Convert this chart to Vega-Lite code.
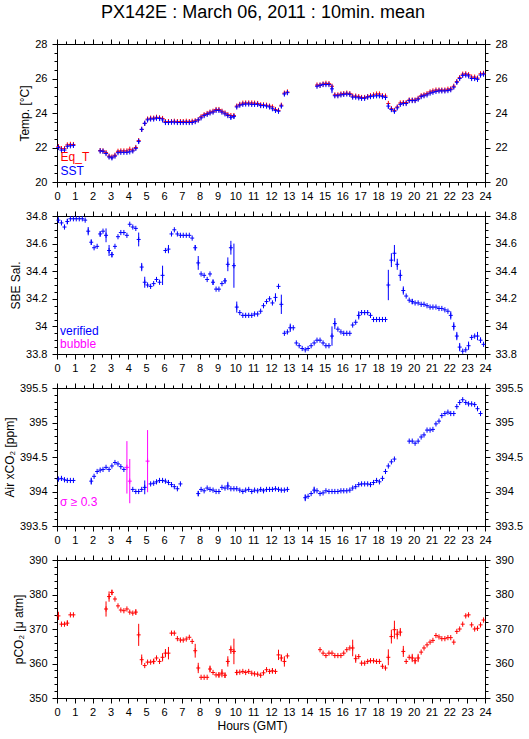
{
"$schema": "https://vega.github.io/schema/vega-lite/v6.json",
"padding": {"left": 2, "top": 3, "right": 2, "bottom": 2},
"background": "white",
"title": {"text": "PX142E : March 06, 2011 : 10min. mean", "fontSize": 18, "fontWeight": "normal", "font": "Liberation Sans", "offset": 16, "anchor": "middle", "color": "#000000"},
"bounds": "flush",
"spacing": 34,
"config": {
  "font": "Liberation Sans",
  "view": {"stroke": "#000000", "strokeWidth": 1},
  "axis": {"grid": false, "domainColor": "#000000", "tickColor": "#000000", "labelColor": "#000000", "titleColor": "#000000", "labelFontSize": 11, "titleFontSize": 12, "titleFontWeight": "normal", "labelFont": "Liberation Sans", "titleFont": "Liberation Sans", "tickSize": 5, "titlePadding": 3, "labelOverlap": false, "labelFlush": false, "labelBound": false},
  "axisX": {"labelPadding": 3},
  "axisY": {"labelPadding": 5}
},
"datasets": {
"temp": [
{"h":0.08,"s":22.0,"q":22.05},{"h":0.25,"s":21.85,"q":21.93},{"h":0.42,"s":21.85,"q":21.93},{"h":0.58,"s":22.07,"q":22.15},{"h":0.75,"s":22.1,"q":22.18},{"h":0.92,"s":22.12,"q":22.17},
{"h":2.42,"s":21.8,"q":21.82},{"h":2.58,"s":21.78,"q":21.8},{"h":2.75,"s":21.65,"q":21.7},{"h":2.92,"s":21.45,"q":21.5},
{"h":3.08,"s":21.4,"q":21.45,"e":0.08},{"h":3.25,"s":21.5,"q":21.55},{"h":3.42,"s":21.7,"q":21.78},{"h":3.58,"s":21.72,"q":21.8},{"h":3.75,"s":21.72,"q":21.8},{"h":3.92,"s":21.72,"q":21.8},
{"h":4.08,"s":21.75,"q":21.9},{"h":4.25,"s":21.8,"q":21.85},{"h":4.42,"s":21.95,"q":22.0},{"h":4.58,"s":22.35,"q":22.4,"e":0.12},{"h":4.75,"s":23.05,"q":23.05,"e":0.08},{"h":4.92,"s":23.4,"q":23.4,"e":0.08},
{"h":5.08,"s":23.6,"q":23.65},{"h":5.25,"s":23.65,"q":23.7},{"h":5.42,"s":23.65,"q":23.7},{"h":5.58,"s":23.7,"q":23.75},{"h":5.75,"s":23.68,"q":23.72},{"h":5.92,"s":23.6,"q":23.68},
{"h":6.08,"s":23.45,"q":23.5},{"h":6.25,"s":23.45,"q":23.5},{"h":6.42,"s":23.47,"q":23.5},{"h":6.58,"s":23.47,"q":23.52},{"h":6.75,"s":23.45,"q":23.5},{"h":6.92,"s":23.45,"q":23.5},
{"h":7.08,"s":23.45,"q":23.5},{"h":7.25,"s":23.45,"q":23.52},{"h":7.42,"s":23.45,"q":23.5},{"h":7.58,"s":23.45,"q":23.52},{"h":7.75,"s":23.5,"q":23.55},{"h":7.92,"s":23.6,"q":23.6},
{"h":8.08,"s":23.72,"q":23.78},{"h":8.25,"s":23.85,"q":23.9},{"h":8.42,"s":23.92,"q":23.97},{"h":8.58,"s":24.0,"q":24.05},{"h":8.75,"s":24.05,"q":24.1},{"h":8.92,"s":24.15,"q":24.2},
{"h":9.08,"s":24.15,"q":24.2},{"h":9.25,"s":24.05,"q":24.1},{"h":9.42,"s":23.95,"q":24.0},{"h":9.58,"s":23.85,"q":23.9},{"h":9.75,"s":23.75,"q":23.85,"e":0.12},{"h":9.92,"s":23.8,"q":23.85,"e":0.12},
{"h":10.08,"s":24.35,"q":24.4},{"h":10.25,"s":24.45,"q":24.5},{"h":10.42,"s":24.5,"q":24.57},{"h":10.58,"s":24.52,"q":24.58},{"h":10.75,"s":24.52,"q":24.58},{"h":10.92,"s":24.5,"q":24.58},
{"h":11.08,"s":24.5,"q":24.57},{"h":11.25,"s":24.5,"q":24.55},{"h":11.42,"s":24.43,"q":24.47},{"h":11.58,"s":24.43,"q":24.47},{"h":11.75,"s":24.4,"q":24.45},{"h":11.92,"s":24.35,"q":24.4},
{"h":12.08,"s":24.25,"q":24.35},{"h":12.25,"s":24.15,"q":24.2},{"h":12.42,"s":24.1,"q":24.15,"e":0.06},{"h":12.58,"s":24.4,"q":24.45,"e":0.08},{"h":12.75,"s":25.1,"q":25.15,"e":0.08},{"h":12.92,"s":25.18,"q":25.22},
{"h":14.58,"s":25.55,"q":25.62},{"h":14.75,"s":25.6,"q":25.62},{"h":14.92,"s":25.65,"q":25.68},
{"h":15.08,"s":25.65,"q":25.72},{"h":15.25,"s":25.65,"q":25.7},{"h":15.42,"s":25.4,"q":25.55,"e":0.25},{"h":15.58,"s":25.0,"q":25.05},{"h":15.75,"s":25.0,"q":25.05},{"h":15.92,"s":25.05,"q":25.1},
{"h":16.08,"s":25.08,"q":25.12},{"h":16.25,"s":25.1,"q":25.15},{"h":16.42,"s":25.08,"q":25.12},{"h":16.58,"s":24.92,"q":24.98},{"h":16.75,"s":24.92,"q":24.98},{"h":16.92,"s":24.88,"q":24.95},
{"h":17.08,"s":24.85,"q":24.9},{"h":17.25,"s":24.85,"q":24.9},{"h":17.42,"s":24.92,"q":24.95},{"h":17.58,"s":24.95,"q":25.0},{"h":17.75,"s":24.98,"q":25.05},{"h":17.92,"s":25.0,"q":25.1},
{"h":18.08,"s":25.0,"q":25.1},{"h":18.25,"s":24.95,"q":25.0},{"h":18.42,"s":24.9,"q":24.98},{"h":18.58,"s":24.4,"q":24.55,"e":0.15},{"h":18.75,"s":24.2,"q":24.25},{"h":18.92,"s":24.1,"q":24.15,"e":0.1},
{"h":19.08,"s":24.3,"q":24.35},{"h":19.25,"s":24.5,"q":24.58},{"h":19.42,"s":24.55,"q":24.6},{"h":19.58,"s":24.55,"q":24.6},{"h":19.75,"s":24.72,"q":24.75},{"h":19.92,"s":24.72,"q":24.75},
{"h":20.08,"s":24.72,"q":24.75},{"h":20.25,"s":24.8,"q":24.85},{"h":20.42,"s":24.95,"q":25.0},{"h":20.58,"s":25.0,"q":25.05},{"h":20.75,"s":25.05,"q":25.12},{"h":20.92,"s":25.15,"q":25.22},
{"h":21.08,"s":25.2,"q":25.28},{"h":21.25,"s":25.25,"q":25.33},{"h":21.42,"s":25.28,"q":25.33},{"h":21.58,"s":25.28,"q":25.33},{"h":21.75,"s":25.28,"q":25.33},{"h":21.92,"s":25.3,"q":25.38},
{"h":22.08,"s":25.35,"q":25.4},{"h":22.25,"s":25.5,"q":25.55},{"h":22.42,"s":25.78,"q":25.82,"e":0.08},{"h":22.58,"s":26.0,"q":26.05},{"h":22.75,"s":26.18,"q":26.25},{"h":22.92,"s":26.2,"q":26.27},
{"h":23.08,"s":26.15,"q":26.22},{"h":23.25,"s":26.0,"q":26.08},{"h":23.42,"s":26.0,"q":26.08},{"h":23.58,"s":25.95,"q":26.02},{"h":23.75,"s":26.2,"q":26.27},{"h":23.92,"s":26.25,"q":26.3}
],
"sal": [
{"h":0.08,"v":34.77,"e":0.02},{"h":0.25,"v":34.75},{"h":0.42,"v":34.72},{"h":0.58,"v":34.76,"e":0.02},{"h":0.75,"v":34.78},{"h":0.92,"v":34.78},
{"h":1.08,"v":34.78},{"h":1.25,"v":34.78},{"h":1.42,"v":34.78},{"h":1.58,"v":34.77},{"h":1.75,"v":34.69,"e":0.03},{"h":1.92,"v":34.61,"e":0.02},
{"h":2.08,"v":34.57},{"h":2.25,"v":34.58},{"h":2.42,"v":34.67,"e":0.02},{"h":2.58,"v":34.69},{"h":2.75,"v":34.66,"e":0.05},{"h":2.92,"v":34.55,"e":0.04},
{"h":3.08,"v":34.52,"e":0.02},{"h":3.25,"v":34.58},{"h":3.42,"v":34.65},{"h":3.58,"v":34.68},{"h":3.75,"v":34.68},{"h":3.92,"v":34.66},
{"h":4.08,"v":34.74},{"h":4.25,"v":34.72},{"h":4.42,"v":34.71},{"h":4.58,"v":34.63,"e":0.05},{"h":4.75,"v":34.43,"e":0.03},{"h":4.92,"v":34.32,"e":0.04},
{"h":5.08,"v":34.3},{"h":5.25,"v":34.29},{"h":5.42,"v":34.31},{"h":5.58,"v":34.34},{"h":5.75,"v":34.32},{"h":5.92,"v":34.37,"e":0.07},
{"h":6.08,"v":34.55},{"h":6.25,"v":34.56,"e":0.03},{"h":6.42,"v":34.67},{"h":6.58,"v":34.7},{"h":6.75,"v":34.67},{"h":6.92,"v":34.66},
{"h":7.08,"v":34.66},{"h":7.25,"v":34.66},{"h":7.42,"v":34.66},{"h":7.58,"v":34.64},{"h":7.75,"v":34.57,"e":0.02},{"h":7.92,"v":34.46,"e":0.05},
{"h":8.08,"v":34.38},{"h":8.25,"v":34.37},{"h":8.42,"v":34.34},{"h":8.58,"v":34.38},{"h":8.75,"v":34.32,"e":0.02},{"h":8.92,"v":34.27},
{"h":9.08,"v":34.27},{"h":9.25,"v":34.31},{"h":9.42,"v":34.33,"e":0.02},{"h":9.58,"v":34.45,"e":0.05},{"h":9.75,"v":34.57,"e":0.05},{"h":9.92,"v":34.44,"e":0.16},
{"h":10.08,"v":34.14,"e":0.04},{"h":10.25,"v":34.1},{"h":10.42,"v":34.08},{"h":10.58,"v":34.08},{"h":10.75,"v":34.08},{"h":10.92,"v":34.08},
{"h":11.08,"v":34.09},{"h":11.25,"v":34.09},{"h":11.42,"v":34.11},{"h":11.58,"v":34.15},{"h":11.75,"v":34.18},{"h":11.92,"v":34.2},
{"h":12.08,"v":34.17},{"h":12.25,"v":34.21,"e":0.03},{"h":12.42,"v":34.29},{"h":12.58,"v":34.16,"e":0.07},{"h":12.75,"v":33.95},{"h":12.92,"v":33.96},
{"h":13.08,"v":33.99,"e":0.03},{"h":13.25,"v":33.99},{"h":13.42,"v":33.88},{"h":13.58,"v":33.86},{"h":13.75,"v":33.84},{"h":13.92,"v":33.83},
{"h":14.08,"v":33.84},{"h":14.25,"v":33.86},{"h":14.42,"v":33.88},{"h":14.58,"v":33.9},{"h":14.75,"v":33.9},{"h":14.92,"v":33.88},
{"h":15.08,"v":33.86},{"h":15.25,"v":33.86},{"h":15.42,"v":33.93,"e":0.07},{"h":15.58,"v":34.02,"e":0.04},{"h":15.75,"v":33.98},{"h":15.92,"v":33.96},
{"h":16.08,"v":33.95},{"h":16.25,"v":33.95},{"h":16.42,"v":33.95},{"h":16.58,"v":34.01},{"h":16.75,"v":34.03},{"h":16.92,"v":34.08,"e":0.03},
{"h":17.08,"v":34.1},{"h":17.25,"v":34.1},{"h":17.42,"v":34.1},{"h":17.58,"v":34.08},{"h":17.75,"v":34.05},{"h":17.92,"v":34.05},
{"h":18.08,"v":34.05},{"h":18.25,"v":34.05},{"h":18.42,"v":34.05},{"h":18.58,"v":34.3,"e":0.11},{"h":18.75,"v":34.48,"e":0.05},{"h":18.92,"v":34.53,"e":0.06},
{"h":19.08,"v":34.45,"e":0.04},{"h":19.25,"v":34.37,"e":0.04},{"h":19.42,"v":34.26,"e":0.03},{"h":19.58,"v":34.22},{"h":19.75,"v":34.19},{"h":19.92,"v":34.18,"e":0.02},
{"h":20.08,"v":34.17},{"h":20.25,"v":34.17},{"h":20.42,"v":34.16},{"h":20.58,"v":34.16},{"h":20.75,"v":34.15},{"h":20.92,"v":34.14},
{"h":21.08,"v":34.14},{"h":21.25,"v":34.14},{"h":21.42,"v":34.13},{"h":21.58,"v":34.13},{"h":21.75,"v":34.12},{"h":21.92,"v":34.11},
{"h":22.08,"v":34.08,"e":0.03},{"h":22.25,"v":34.0,"e":0.03},{"h":22.42,"v":33.93,"e":0.03},{"h":22.58,"v":33.85,"e":0.03},{"h":22.75,"v":33.82},{"h":22.92,"v":33.83},
{"h":23.08,"v":33.86,"e":0.03},{"h":23.25,"v":33.92},{"h":23.42,"v":33.93},{"h":23.58,"v":33.93,"e":0.03},{"h":23.75,"v":33.9,"e":0.02},{"h":23.92,"v":33.87}
],
"air": [
{"h":0.08,"v":394.18},{"h":0.25,"v":394.19},{"h":0.42,"v":394.17},{"h":0.58,"v":394.16},{"h":0.75,"v":394.16},{"h":0.92,"v":394.16},
{"h":1.92,"v":394.15,"e":0.05},
{"h":2.08,"v":394.22},{"h":2.25,"v":394.29},{"h":2.42,"v":394.31},{"h":2.58,"v":394.32},{"h":2.75,"v":394.35},{"h":2.92,"v":394.32},
{"h":3.08,"v":394.37},{"h":3.25,"v":394.42},{"h":3.42,"v":394.4},{"h":3.58,"v":394.36},{"h":3.75,"v":394.32},{"h":3.92,"v":394.35,"e":0.38},
{"h":4.08,"v":394.15,"e":0.32},{"h":4.25,"v":394.03},{"h":4.42,"v":394.0},{"h":4.58,"v":394.0},{"h":4.75,"v":394.03},{"h":4.92,"v":394.06,"e":0.1},
{"h":5.08,"v":394.44,"e":0.45},{"h":5.25,"v":394.11},{"h":5.42,"v":394.12},{"h":5.58,"v":394.14},{"h":5.75,"v":394.16},{"h":5.92,"v":394.16},
{"h":6.08,"v":394.15},{"h":6.25,"v":394.13},{"h":6.42,"v":394.1},{"h":6.58,"v":394.07},{"h":6.75,"v":394.04},{"h":6.92,"v":394.11},
{"h":7.92,"v":393.97,"e":0.04},
{"h":8.08,"v":394.03},{"h":8.25,"v":394.01},{"h":8.42,"v":394.05},{"h":8.58,"v":394.03},{"h":8.75,"v":394.02},{"h":8.92,"v":394.0},
{"h":9.08,"v":394.0},{"h":9.25,"v":394.06},{"h":9.42,"v":394.05},{"h":9.58,"v":394.08,"e":0.06},{"h":9.75,"v":394.04},{"h":9.92,"v":394.04},
{"h":10.08,"v":394.04},{"h":10.25,"v":394.02},{"h":10.42,"v":394.0},{"h":10.58,"v":394.02},{"h":10.75,"v":394.03},{"h":10.92,"v":394.0},
{"h":11.08,"v":394.02},{"h":11.25,"v":394.01},{"h":11.42,"v":394.03},{"h":11.58,"v":394.01},{"h":11.75,"v":394.03},{"h":11.92,"v":394.03},
{"h":12.08,"v":394.03},{"h":12.25,"v":394.04},{"h":12.42,"v":394.03},{"h":12.58,"v":394.02},{"h":12.75,"v":394.02},{"h":12.92,"v":394.03},
{"h":13.92,"v":393.91,"e":0.05},
{"h":14.08,"v":393.93},{"h":14.25,"v":393.97},{"h":14.42,"v":394.02,"e":0.05},{"h":14.58,"v":394.01},{"h":14.75,"v":393.97},{"h":14.92,"v":393.98},
{"h":15.08,"v":394.01},{"h":15.25,"v":394.0},{"h":15.42,"v":394.0},{"h":15.58,"v":394.0},{"h":15.75,"v":394.0},{"h":15.92,"v":394.01},
{"h":16.08,"v":394.01},{"h":16.25,"v":394.01},{"h":16.42,"v":394.02},{"h":16.58,"v":394.05},{"h":16.75,"v":394.07},{"h":16.92,"v":394.1},
{"h":17.08,"v":394.11},{"h":17.25,"v":394.11},{"h":17.42,"v":394.11},{"h":17.58,"v":394.1},{"h":17.75,"v":394.13},{"h":17.92,"v":394.16},
{"h":18.08,"v":394.14},{"h":18.25,"v":394.19},{"h":18.42,"v":394.29},{"h":18.58,"v":394.37},{"h":18.75,"v":394.43},{"h":18.92,"v":394.47},
{"h":19.75,"v":394.73},{"h":19.92,"v":394.73},
{"h":20.08,"v":394.7},{"h":20.25,"v":394.73},{"h":20.42,"v":394.79},{"h":20.58,"v":394.82},{"h":20.75,"v":394.89},{"h":20.92,"v":394.89},
{"h":21.08,"v":394.9},{"h":21.25,"v":394.98},{"h":21.42,"v":395.02},{"h":21.58,"v":395.1},{"h":21.75,"v":395.13},{"h":21.92,"v":395.15},
{"h":22.08,"v":395.13},{"h":22.25,"v":395.13},{"h":22.42,"v":395.23},{"h":22.58,"v":395.29},{"h":22.75,"v":395.33},{"h":22.92,"v":395.29},
{"h":23.08,"v":395.27},{"h":23.25,"v":395.27},{"h":23.42,"v":395.26},{"h":23.58,"v":395.2},{"h":23.75,"v":395.13}
],
"pco2": [
{"h":0.08,"v":373.8,"e":1.2},{"h":0.25,"v":371.4},{"h":0.42,"v":371.4},{"h":0.58,"v":371.7,"e":0.8},{"h":0.75,"v":374.1},{"h":0.92,"v":374.1},
{"h":2.75,"v":375.8,"e":2.2},{"h":2.92,"v":379.4,"e":1.5},
{"h":3.08,"v":380.6,"e":0.8},{"h":3.25,"v":378.7},{"h":3.42,"v":376.7},{"h":3.58,"v":375.5},{"h":3.75,"v":375.3},{"h":3.92,"v":375.8},
{"h":4.08,"v":374.9},{"h":4.25,"v":374.6},{"h":4.42,"v":374.9,"e":0.8},{"h":4.58,"v":368.3,"e":3.2},{"h":4.75,"v":361.1,"e":1.5},{"h":4.92,"v":359.4},
{"h":5.08,"v":360.4},{"h":5.25,"v":360.4},{"h":5.42,"v":360.6,"e":0.8},{"h":5.58,"v":361.6},{"h":5.75,"v":360.6},{"h":5.92,"v":361.8,"e":1.2},
{"h":6.08,"v":363.0,"e":1.2},{"h":6.25,"v":363.0,"e":1.8},{"h":6.42,"v":368.8},{"h":6.58,"v":368.8},{"h":6.75,"v":367.2},{"h":6.92,"v":366.8},
{"h":7.08,"v":366.8},{"h":7.25,"v":367.1},{"h":7.42,"v":367.6},{"h":7.58,"v":366.4},{"h":7.75,"v":363.7,"e":2.0},{"h":7.92,"v":358.7,"e":1.5},
{"h":8.08,"v":356.0},{"h":8.25,"v":356.0},{"h":8.42,"v":356.0},{"h":8.58,"v":358.4,"e":1.0},{"h":8.75,"v":357.4},{"h":8.92,"v":356.7},
{"h":9.08,"v":356.7,"e":0.8},{"h":9.25,"v":357.2,"e":1.2},{"h":9.42,"v":356.6,"e":0.8},{"h":9.58,"v":360.6,"e":1.5},{"h":9.75,"v":364.0,"e":1.2},{"h":9.92,"v":363.5,"e":3.7},
{"h":10.08,"v":357.4,"e":0.8},{"h":10.25,"v":357.5},{"h":10.42,"v":357.7},{"h":10.58,"v":357.4},{"h":10.75,"v":357.7},{"h":10.92,"v":357.2},
{"h":11.08,"v":357.0},{"h":11.25,"v":356.9},{"h":11.42,"v":356.6},{"h":11.58,"v":357.3},{"h":11.75,"v":358.2},{"h":11.92,"v":357.7},
{"h":12.08,"v":357.9,"e":0.8},{"h":12.25,"v":357.7},{"h":12.42,"v":362.5,"e":1.5},{"h":12.58,"v":361.6,"e":1.0},{"h":12.75,"v":360.6,"e":1.5},{"h":12.92,"v":362.2},
{"h":14.75,"v":364.0},{"h":14.92,"v":363.0},
{"h":15.08,"v":362.3},{"h":15.25,"v":363.0},{"h":15.42,"v":363.0},{"h":15.58,"v":362.3},{"h":15.75,"v":362.3},{"h":15.92,"v":362.3},
{"h":16.08,"v":363.0},{"h":16.25,"v":364.0},{"h":16.42,"v":364.5},{"h":16.58,"v":364.5,"e":2.4},{"h":16.75,"v":361.4,"e":1.2},{"h":16.92,"v":362.0},
{"h":17.08,"v":360.1},{"h":17.25,"v":360.1},{"h":17.42,"v":360.6},{"h":17.58,"v":360.8},{"h":17.75,"v":360.8},{"h":17.92,"v":360.6},
{"h":18.08,"v":360.6},{"h":18.25,"v":359.2},{"h":18.42,"v":358.7},{"h":18.58,"v":361.8,"e":2.3},{"h":18.75,"v":367.8,"e":2.0},{"h":18.92,"v":369.8,"e":2.6},
{"h":19.08,"v":368.5,"e":1.5},{"h":19.25,"v":369.1,"e":1.2},{"h":19.42,"v":363.5,"e":1.6},{"h":19.58,"v":360.6},{"h":19.75,"v":361.8},{"h":19.92,"v":361.6,"e":1.2},
{"h":20.08,"v":360.8,"e":1.0},{"h":20.25,"v":361.6,"e":1.2},{"h":20.42,"v":363.3},{"h":20.58,"v":364.5},{"h":20.75,"v":365.4},{"h":20.92,"v":366.2},
{"h":21.08,"v":366.7},{"h":21.25,"v":368.1},{"h":21.42,"v":367.7},{"h":21.58,"v":367.2},{"h":21.75,"v":367.2},{"h":21.92,"v":367.5},
{"h":22.08,"v":367.5},{"h":22.25,"v":366.2},{"h":22.42,"v":369.3},{"h":22.58,"v":370.0},{"h":22.75,"v":371.4},{"h":22.92,"v":373.8},
{"h":23.08,"v":374.1},{"h":23.25,"v":371.2},{"h":23.42,"v":370.0},{"h":23.58,"v":370.2},{"h":23.75,"v":371.2},{"h":23.92,"v":372.6}
]
},
"vconcat": [
{
 "width": 428, "height": 138,
 "data": {"name": "temp"},
 "resolve": {"axis": {"x": "independent", "y": "independent"}},
 "layer": [
  {"mark": {"type": "point", "opacity": 0},
   "encoding": {
    "x": {"field": "h", "type": "quantitative", "scale": {"domain": [0, 24], "nice": false, "zero": false}, "axis": {"orient": "bottom", "values": [0,1,2,3,4,5,6,7,8,9,10,11,12,13,14,15,16,17,18,19,20,21,22,23,24], "format": "d", "title": null}},
    "y": {"field": "s", "type": "quantitative", "scale": {"domain": [20, 28], "nice": false, "zero": false}, "axis": {"orient": "left", "values": [20,22,24,26,28], "format": "~g", "title": "Temp. [°C]"}}}},
  {"mark": {"type": "point", "opacity": 0},
   "encoding": {
    "x": {"field": "h", "type": "quantitative", "axis": {"orient": "top", "values": [0,1,2,3,4,5,6,7,8,9,10,11,12,13,14,15,16,17,18,19,20,21,22,23,24], "labels": false, "title": null}},
    "y": {"field": "s", "type": "quantitative", "axis": {"orient": "right", "values": [20,22,24,26,28], "format": "~g", "title": null}}}},
  {"mark": {"type": "point", "opacity": 0},
   "encoding": {
    "x": {"field": "h", "type": "quantitative", "axis": {"orient": "bottom", "values": [0.5,1.5,2.5,3.5,4.5,5.5,6.5,7.5,8.5,9.5,10.5,11.5,12.5,13.5,14.5,15.5,16.5,17.5,18.5,19.5,20.5,21.5,22.5,23.5], "labels": false, "domain": false, "tickSize": 3, "title": null}},
    "y": {"field": "s", "type": "quantitative", "axis": {"orient": "left", "values": [20.5,21,21.5,22.5,23,23.5,24.5,25,25.5,26.5,27,27.5], "labels": false, "domain": false, "tickSize": 3, "title": null}}}},
  {"mark": {"type": "point", "opacity": 0},
   "encoding": {
    "x": {"field": "h", "type": "quantitative", "axis": {"orient": "top", "values": [0.5,1.5,2.5,3.5,4.5,5.5,6.5,7.5,8.5,9.5,10.5,11.5,12.5,13.5,14.5,15.5,16.5,17.5,18.5,19.5,20.5,21.5,22.5,23.5], "labels": false, "domain": false, "tickSize": 3, "title": null}},
    "y": {"field": "s", "type": "quantitative", "axis": {"orient": "right", "values": [20.5,21,21.5,22.5,23,23.5,24.5,25,25.5,26.5,27,27.5], "labels": false, "domain": false, "tickSize": 3, "title": null}}}},
  {"mark": {"type": "point", "shape": "M-1,0H1M0,-1.3V1.3", "size": 16, "filled": false, "strokeWidth": 1, "opacity": 1, "color": "#ff0000"},
   "encoding": {
    "x": {"field": "h", "type": "quantitative", "axis": null},
    "y": {"field": "q", "type": "quantitative", "axis": null}}},
  {"transform": [{"filter": "isValid(datum.e)"}],
   "mark": {"type": "errorbar"},
   "encoding": {
    "x": {"field": "h", "type": "quantitative", "axis": null},
    "y": {"field": "s", "type": "quantitative", "axis": null},
    "yError": {"field": "e"},
    "color": {"value": "#0000ff"}}},
  {"mark": {"type": "point", "shape": "M-1,0H1M0,-1.3V1.3", "size": 16, "filled": false, "strokeWidth": 1, "opacity": 1, "color": "#0000ff"},
   "encoding": {
    "x": {"field": "h", "type": "quantitative", "axis": null},
    "y": {"field": "s", "type": "quantitative", "axis": null}}},
  {"data": {"values": [{}]},
   "mark": {"type": "text", "align": "left", "baseline": "middle", "fontSize": 12, "color": "#ff0000"},
   "encoding": {"x": {"datum": 0.2, "type": "quantitative", "axis": null}, "y": {"datum": 21.43, "type": "quantitative", "axis": null}, "text": {"value": "Eq_T"}}},
  {"data": {"values": [{}]},
   "mark": {"type": "text", "align": "left", "baseline": "middle", "fontSize": 12, "color": "#0000ff"},
   "encoding": {"x": {"datum": 0.2, "type": "quantitative", "axis": null}, "y": {"datum": 20.62, "type": "quantitative", "axis": null}, "text": {"value": "SST"}}}
 ]
},
{
 "width": 428, "height": 138,
 "data": {"name": "sal"},
 "resolve": {"axis": {"x": "independent", "y": "independent"}},
 "layer": [
  {"mark": {"type": "point", "opacity": 0},
   "encoding": {
    "x": {"field": "h", "type": "quantitative", "scale": {"domain": [0, 24], "nice": false, "zero": false}, "axis": {"orient": "bottom", "values": [0,1,2,3,4,5,6,7,8,9,10,11,12,13,14,15,16,17,18,19,20,21,22,23,24], "format": "d", "title": null}},
    "y": {"field": "v", "type": "quantitative", "scale": {"domain": [33.8, 34.8], "nice": false, "zero": false}, "axis": {"orient": "left", "values": [33.8,34,34.2,34.4,34.6,34.8], "format": "~g", "title": "SBE Sal."}}}},
  {"mark": {"type": "point", "opacity": 0},
   "encoding": {
    "x": {"field": "h", "type": "quantitative", "axis": {"orient": "top", "values": [0,1,2,3,4,5,6,7,8,9,10,11,12,13,14,15,16,17,18,19,20,21,22,23,24], "labels": false, "title": null}},
    "y": {"field": "v", "type": "quantitative", "axis": {"orient": "right", "values": [33.8,34,34.2,34.4,34.6,34.8], "format": "~g", "title": null}}}},
  {"mark": {"type": "point", "opacity": 0},
   "encoding": {
    "x": {"field": "h", "type": "quantitative", "axis": {"orient": "bottom", "values": [0.5,1.5,2.5,3.5,4.5,5.5,6.5,7.5,8.5,9.5,10.5,11.5,12.5,13.5,14.5,15.5,16.5,17.5,18.5,19.5,20.5,21.5,22.5,23.5], "labels": false, "domain": false, "tickSize": 3, "title": null}},
    "y": {"field": "v", "type": "quantitative", "axis": {"orient": "left", "values": [33.85,33.9,33.95,34.05,34.1,34.15,34.25,34.3,34.35,34.45,34.5,34.55,34.65,34.7,34.75], "labels": false, "domain": false, "tickSize": 3, "title": null}}}},
  {"mark": {"type": "point", "opacity": 0},
   "encoding": {
    "x": {"field": "h", "type": "quantitative", "axis": {"orient": "top", "values": [0.5,1.5,2.5,3.5,4.5,5.5,6.5,7.5,8.5,9.5,10.5,11.5,12.5,13.5,14.5,15.5,16.5,17.5,18.5,19.5,20.5,21.5,22.5,23.5], "labels": false, "domain": false, "tickSize": 3, "title": null}},
    "y": {"field": "v", "type": "quantitative", "axis": {"orient": "right", "values": [33.85,33.9,33.95,34.05,34.1,34.15,34.25,34.3,34.35,34.45,34.5,34.55,34.65,34.7,34.75], "labels": false, "domain": false, "tickSize": 3, "title": null}}}},
  {"transform": [{"filter": "isValid(datum.e)"}],
   "mark": {"type": "errorbar"},
   "encoding": {
    "x": {"field": "h", "type": "quantitative", "axis": null},
    "y": {"field": "v", "type": "quantitative", "axis": null},
    "yError": {"field": "e"},
    "color": {"value": "#0000ff"}}},
  {"mark": {"type": "point", "shape": "M-1,0H1M0,-1.3V1.3", "size": 16, "filled": false, "strokeWidth": 1, "opacity": 1, "color": "#0000ff"},
   "encoding": {
    "x": {"field": "h", "type": "quantitative", "axis": null},
    "y": {"field": "v", "type": "quantitative", "axis": null}}},
  {"data": {"values": [{}]},
   "mark": {"type": "text", "align": "left", "baseline": "middle", "fontSize": 12, "color": "#0000ff"},
   "encoding": {"x": {"datum": 0.17, "type": "quantitative", "axis": null}, "y": {"datum": 33.97, "type": "quantitative", "axis": null}, "text": {"value": "verified"}}},
  {"data": {"values": [{}]},
   "mark": {"type": "text", "align": "left", "baseline": "middle", "fontSize": 12, "color": "#ff00ff"},
   "encoding": {"x": {"datum": 0.17, "type": "quantitative", "axis": null}, "y": {"datum": 33.87, "type": "quantitative", "axis": null}, "text": {"value": "bubble"}}}
 ]
},
{
 "width": 428, "height": 138,
 "data": {"name": "air"},
 "resolve": {"axis": {"x": "independent", "y": "independent"}},
 "layer": [
  {"mark": {"type": "point", "opacity": 0},
   "encoding": {
    "x": {"field": "h", "type": "quantitative", "scale": {"domain": [0, 24], "nice": false, "zero": false}, "axis": {"orient": "bottom", "values": [0,1,2,3,4,5,6,7,8,9,10,11,12,13,14,15,16,17,18,19,20,21,22,23,24], "format": "d", "title": null}},
    "y": {"field": "v", "type": "quantitative", "scale": {"domain": [393.5, 395.5], "nice": false, "zero": false}, "axis": {"orient": "left", "values": [393.5,394,394.5,395,395.5], "format": "~g", "title": "Air xCO₂ [ppm]"}}}},
  {"mark": {"type": "point", "opacity": 0},
   "encoding": {
    "x": {"field": "h", "type": "quantitative", "axis": {"orient": "top", "values": [0,1,2,3,4,5,6,7,8,9,10,11,12,13,14,15,16,17,18,19,20,21,22,23,24], "labels": false, "title": null}},
    "y": {"field": "v", "type": "quantitative", "axis": {"orient": "right", "values": [393.5,394,394.5,395,395.5], "format": "~g", "title": null}}}},
  {"mark": {"type": "point", "opacity": 0},
   "encoding": {
    "x": {"field": "h", "type": "quantitative", "axis": {"orient": "bottom", "values": [0.5,1.5,2.5,3.5,4.5,5.5,6.5,7.5,8.5,9.5,10.5,11.5,12.5,13.5,14.5,15.5,16.5,17.5,18.5,19.5,20.5,21.5,22.5,23.5], "labels": false, "domain": false, "tickSize": 3, "title": null}},
    "y": {"field": "v", "type": "quantitative", "axis": {"orient": "left", "values": [393.6,393.7,393.8,393.9,394.1,394.2,394.3,394.4,394.6,394.7,394.8,394.9,395.1,395.2,395.3,395.4], "labels": false, "domain": false, "tickSize": 3, "title": null}}}},
  {"mark": {"type": "point", "opacity": 0},
   "encoding": {
    "x": {"field": "h", "type": "quantitative", "axis": {"orient": "top", "values": [0.5,1.5,2.5,3.5,4.5,5.5,6.5,7.5,8.5,9.5,10.5,11.5,12.5,13.5,14.5,15.5,16.5,17.5,18.5,19.5,20.5,21.5,22.5,23.5], "labels": false, "domain": false, "tickSize": 3, "title": null}},
    "y": {"field": "v", "type": "quantitative", "axis": {"orient": "right", "values": [393.6,393.7,393.8,393.9,394.1,394.2,394.3,394.4,394.6,394.7,394.8,394.9,395.1,395.2,395.3,395.4], "labels": false, "domain": false, "tickSize": 3, "title": null}}}},
  {"transform": [{"filter": "isValid(datum.e) && datum.e < 0.3"}],
   "mark": {"type": "errorbar"},
   "encoding": {
    "x": {"field": "h", "type": "quantitative", "axis": null},
    "y": {"field": "v", "type": "quantitative", "axis": null},
    "yError": {"field": "e"},
    "color": {"value": "#0000ff"}}},
  {"transform": [{"filter": "isValid(datum.e) && datum.e >= 0.3"}],
   "mark": {"type": "errorbar"},
   "encoding": {
    "x": {"field": "h", "type": "quantitative", "axis": null},
    "y": {"field": "v", "type": "quantitative", "axis": null},
    "yError": {"field": "e"},
    "color": {"value": "#ff00ff"}}},
  {"mark": {"type": "point", "shape": "M-1,0H1M0,-1.3V1.3", "size": 16, "filled": false, "strokeWidth": 1, "opacity": 1},
   "encoding": {
    "x": {"field": "h", "type": "quantitative", "axis": null},
    "y": {"field": "v", "type": "quantitative", "axis": null},
    "color": {"condition": {"test": "datum.e >= 0.3", "value": "#ff00ff"}, "value": "#0000ff"}}},
  {"data": {"values": [{}]},
   "mark": {"type": "text", "align": "left", "baseline": "middle", "fontSize": 12, "color": "#ff00ff"},
   "encoding": {"x": {"datum": 0.17, "type": "quantitative", "axis": null}, "y": {"datum": 393.844, "type": "quantitative", "axis": null}, "text": {"value": "σ ≥ 0.3"}}}
 ]
},
{
 "width": 428, "height": 138,
 "data": {"name": "pco2"},
 "resolve": {"axis": {"x": "independent", "y": "independent"}},
 "layer": [
  {"mark": {"type": "point", "opacity": 0},
   "encoding": {
    "x": {"field": "h", "type": "quantitative", "scale": {"domain": [0, 24], "nice": false, "zero": false}, "axis": {"orient": "bottom", "values": [0,1,2,3,4,5,6,7,8,9,10,11,12,13,14,15,16,17,18,19,20,21,22,23,24], "format": "d", "title": "Hours (GMT)", "titleX": 195}},
    "y": {"field": "v", "type": "quantitative", "scale": {"domain": [350, 390], "nice": false, "zero": false}, "axis": {"orient": "left", "values": [350,360,370,380,390], "format": "d", "title": "pCO₂ [μ atm]"}}}},
  {"mark": {"type": "point", "opacity": 0},
   "encoding": {
    "x": {"field": "h", "type": "quantitative", "axis": {"orient": "top", "values": [0,1,2,3,4,5,6,7,8,9,10,11,12,13,14,15,16,17,18,19,20,21,22,23,24], "labels": false, "title": null}},
    "y": {"field": "v", "type": "quantitative", "axis": {"orient": "right", "values": [350,360,370,380,390], "format": "d", "title": null}}}},
  {"mark": {"type": "point", "opacity": 0},
   "encoding": {
    "x": {"field": "h", "type": "quantitative", "axis": {"orient": "bottom", "values": [0.5,1.5,2.5,3.5,4.5,5.5,6.5,7.5,8.5,9.5,10.5,11.5,12.5,13.5,14.5,15.5,16.5,17.5,18.5,19.5,20.5,21.5,22.5,23.5], "labels": false, "domain": false, "tickSize": 3, "title": null}},
    "y": {"field": "v", "type": "quantitative", "axis": {"orient": "left", "values": [352,354,356,358,362,364,366,368,372,374,376,378,382,384,386,388], "labels": false, "domain": false, "tickSize": 3, "title": null}}}},
  {"mark": {"type": "point", "opacity": 0},
   "encoding": {
    "x": {"field": "h", "type": "quantitative", "axis": {"orient": "top", "values": [0.5,1.5,2.5,3.5,4.5,5.5,6.5,7.5,8.5,9.5,10.5,11.5,12.5,13.5,14.5,15.5,16.5,17.5,18.5,19.5,20.5,21.5,22.5,23.5], "labels": false, "domain": false, "tickSize": 3, "title": null}},
    "y": {"field": "v", "type": "quantitative", "axis": {"orient": "right", "values": [352,354,356,358,362,364,366,368,372,374,376,378,382,384,386,388], "labels": false, "domain": false, "tickSize": 3, "title": null}}}},
  {"transform": [{"filter": "isValid(datum.e)"}],
   "mark": {"type": "errorbar"},
   "encoding": {
    "x": {"field": "h", "type": "quantitative", "axis": null},
    "y": {"field": "v", "type": "quantitative", "axis": null},
    "yError": {"field": "e"},
    "color": {"value": "#ff0000"}}},
  {"mark": {"type": "point", "shape": "M-1,0H1M0,-1.3V1.3", "size": 16, "filled": false, "strokeWidth": 1, "opacity": 1, "color": "#ff0000"},
   "encoding": {
    "x": {"field": "h", "type": "quantitative", "axis": null},
    "y": {"field": "v", "type": "quantitative", "axis": null}}}
 ]
}
]
}
